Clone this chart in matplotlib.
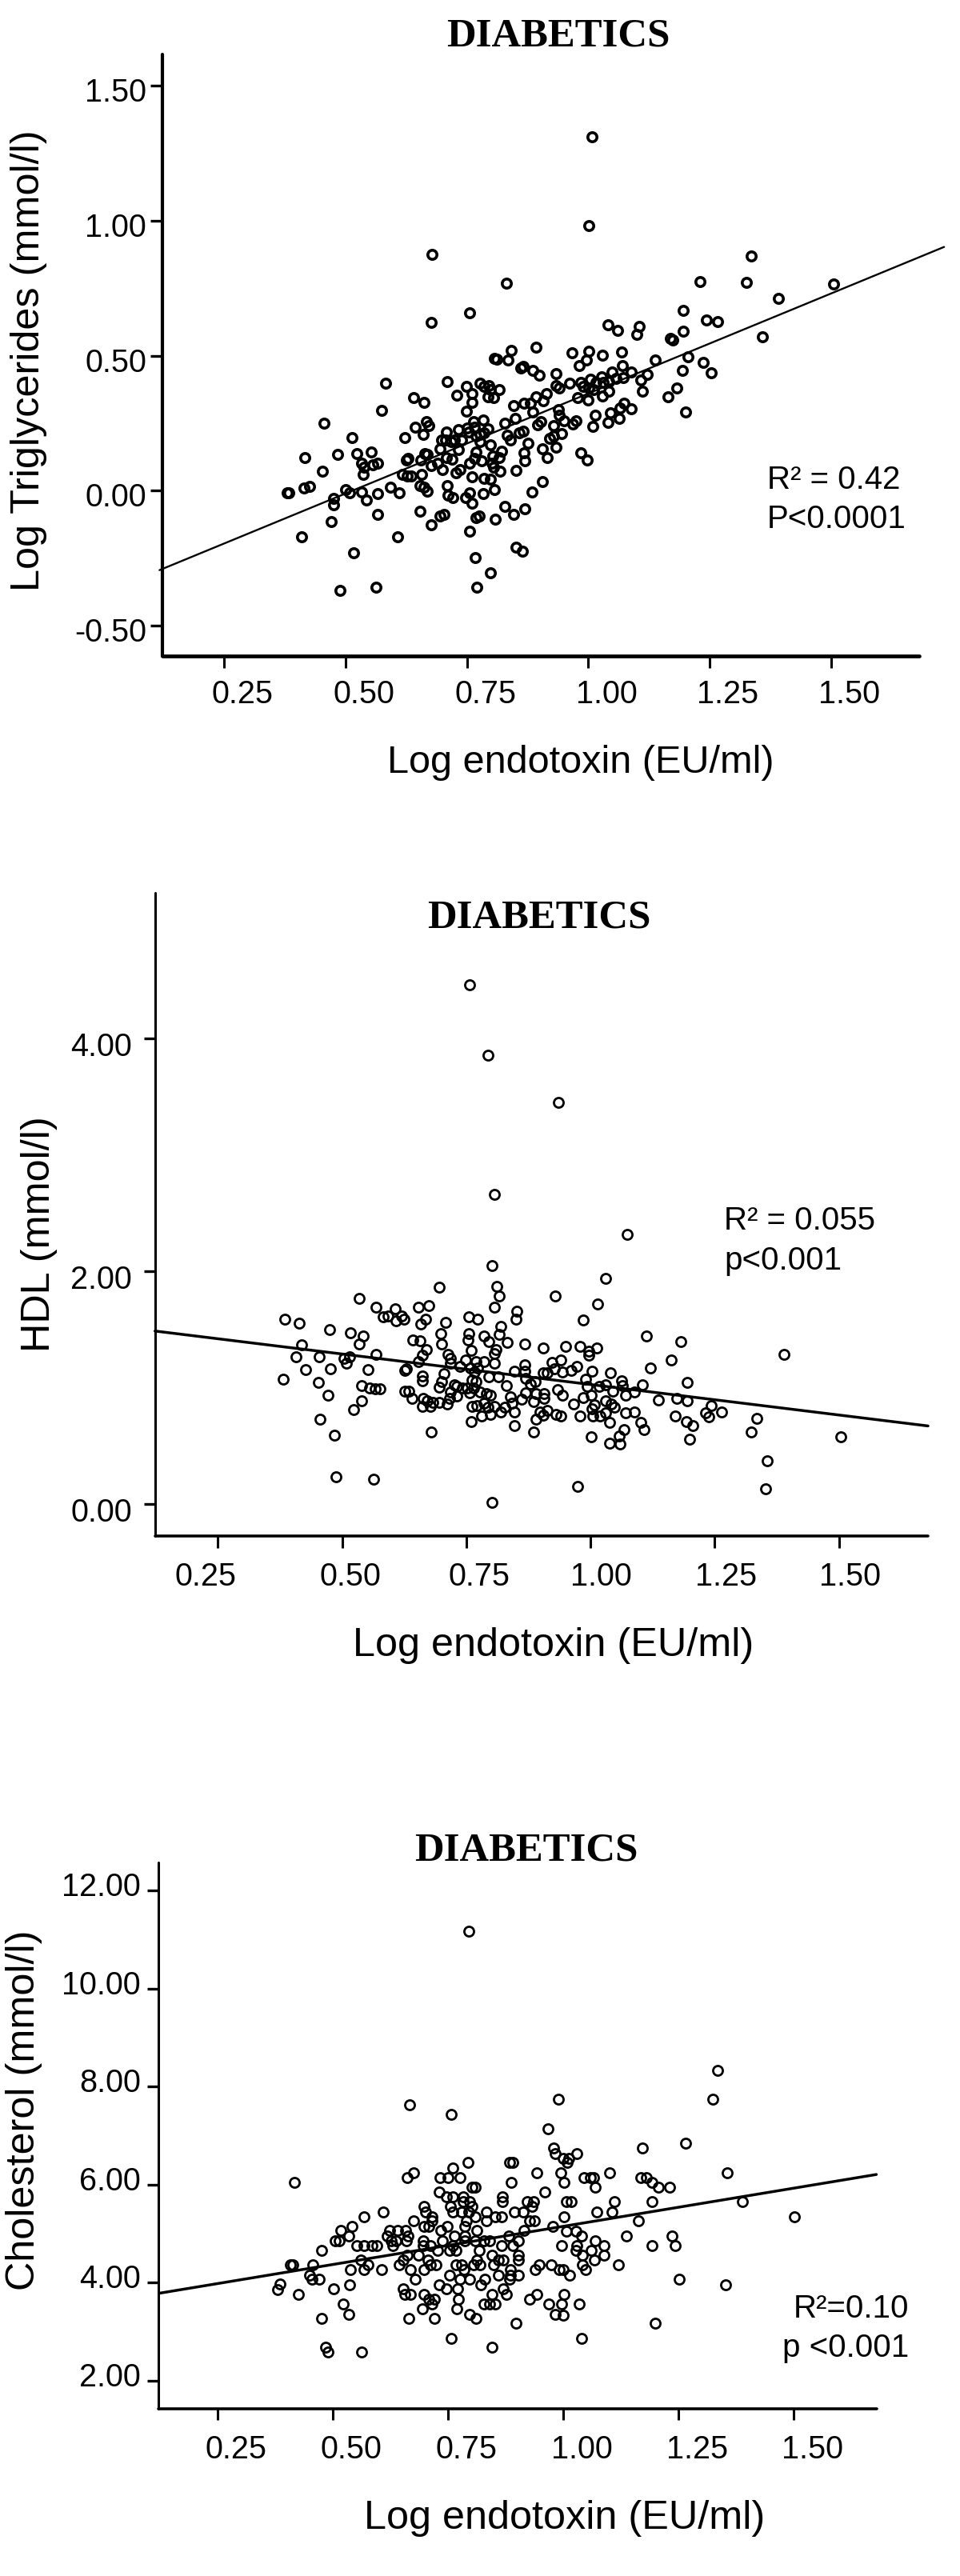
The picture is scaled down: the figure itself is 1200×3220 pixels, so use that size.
"""Three DIABETICS scatter panels: log endotoxin against TG, HDL and cholesterol."""
import matplotlib
matplotlib.use("Agg")
import matplotlib.pyplot as plt
from matplotlib.transforms import ScaledTranslation

W, H = 1200, 3220
SANS = ["Liberation Sans", "DejaVu Sans"]
SERIF = ["Liberation Serif", "DejaVu Serif"]

# ---------------------------------------------------------------------
# Data
# ---------------------------------------------------------------------
TG_X = [0.679, 0.756, 0.677, 0.807, 0.583, 0.709, 0.749, 0.777, 0.785, 0.795, 0.799, 0.761, 0.730, 0.641, 0.662, 0.760,
        0.794, 0.805, 0.575, 0.749, 0.455, 0.667, 0.671, 0.644, 0.660, 0.514, 0.623, 0.764, 0.783, 0.750, 0.754, 0.766,
        0.732, 0.708, 0.698, 0.706, 0.717, 0.725, 0.694, 0.739, 0.794, 0.769, 0.777, 0.786, 0.777, 0.799, 0.733, 0.769,
        0.663, 0.669, 0.553, 0.523, 0.484, 0.417, 0.629, 0.625, 0.656, 0.708, 0.719, 0.766, 0.780, 0.755, 0.803, 0.534,
        0.567, 0.556, 0.539, 0.677, 0.689, 0.802, 0.805, 0.453, 0.537, 0.699, 0.727, 0.736, 0.657, 0.617, 0.627, 0.636,
        0.761, 0.785, 0.799, 0.383, 0.380, 0.415, 0.426, 0.501, 0.508, 0.534, 0.566, 0.593, 0.610, 0.654, 0.662, 0.669,
        0.709, 0.711, 0.721, 0.755, 0.747, 0.784, 0.806, 0.475, 0.475, 0.543, 0.761, 0.567, 0.653, 0.695, 0.703, 0.769,
        0.775, 0.809, 0.471, 0.677, 0.756, 0.409, 0.607, 0.517, 0.768, 0.799, 0.488, 0.563, 0.770,
        1.008, 1.002, 0.832, 1.335, 1.231, 1.325, 1.505, 1.391, 1.195, 1.243, 1.266, 1.041, 1.061, 1.105, 1.100, 1.195,
        1.359, 1.169, 1.174, 0.841, 0.892, 0.834, 0.967, 1.001, 1.029, 1.068, 0.997, 0.981, 0.811, 1.138, 1.206, 1.237,
        1.071, 0.861, 0.866, 0.886, 0.899, 0.934, 1.253, 1.194, 1.088, 1.121, 1.049, 0.961, 0.934, 0.941, 0.984, 0.990,
        1.004, 1.016, 1.028, 1.031, 1.043, 1.058, 1.072, 1.109, 1.112, 1.043, 1.001, 1.011, 1.182, 1.164, 0.816, 0.914,
        0.893, 0.978, 0.999, 1.030, 0.908, 0.881, 0.868, 0.846, 1.074, 1.065, 1.089, 1.200, 0.939, 0.886, 0.850, 1.014,
        1.045, 0.941, 0.950, 0.975, 0.969, 0.902, 0.896, 0.829, 0.928, 1.009, 1.040, 1.064, 0.866, 0.858, 0.833, 0.839,
        0.945, 0.928, 0.921, 0.876, 0.934, 0.905, 0.985, 0.868, 0.915, 0.869, 0.998, 0.822, 0.816, 0.851, 0.818, 0.905,
        0.885, 0.829, 0.846, 0.870, 0.852, 0.864]
TG_Y = [0.876, 0.660, 0.624, 0.489, 0.399, 0.405, 0.386, 0.397, 0.386, 0.388, 0.374, 0.361, 0.353, 0.345, 0.327, 0.327,
        0.348, 0.345, 0.298, 0.295, 0.250, 0.255, 0.242, 0.235, 0.209, 0.197, 0.196, 0.255, 0.262, 0.231, 0.218, 0.235,
        0.225, 0.218, 0.189, 0.189, 0.183, 0.189, 0.156, 0.187, 0.229, 0.202, 0.209, 0.216, 0.183, 0.169, 0.152, 0.143,
        0.139, 0.134, 0.143, 0.139, 0.135, 0.122, 0.120, 0.115, 0.114, 0.123, 0.116, 0.120, 0.110, 0.103, 0.130, 0.103,
        0.103, 0.097, 0.086, 0.094, 0.103, 0.103, 0.086, 0.071, 0.062, 0.078, 0.066, 0.078, 0.061, 0.060, 0.054, 0.054,
        0.052, 0.045, 0.044, -0.007, -0.007, 0.011, 0.015, 0.004, -0.007, -0.005, -0.011, 0.012, -0.007, 0.020, 0.012, -0.001,
        0.020, -0.016, -0.026, -0.009, -0.025, -0.011, 0.004, -0.029, -0.052, -0.034, -0.046, -0.089, -0.075, -0.093, -0.089, -0.099,
        -0.093, -0.104, -0.115, -0.126, -0.149, -0.171, -0.171, -0.231, -0.247, -0.303, -0.368, -0.358, -0.358,
        1.310, 0.983, 0.770, 0.869, 0.775, 0.771, 0.765, 0.713, 0.667, 0.631, 0.626, 0.614, 0.595, 0.608, 0.579, 0.590,
        0.569, 0.565, 0.557, 0.520, 0.533, 0.485, 0.512, 0.517, 0.501, 0.513, 0.484, 0.464, 0.488, 0.484, 0.496, 0.475,
        0.463, 0.454, 0.460, 0.447, 0.427, 0.435, 0.438, 0.446, 0.439, 0.430, 0.439, 0.398, 0.388, 0.381, 0.401, 0.385,
        0.414, 0.401, 0.421, 0.401, 0.403, 0.417, 0.419, 0.410, 0.368, 0.370, 0.381, 0.374, 0.382, 0.347, 0.374, 0.361,
        0.348, 0.344, 0.336, 0.351, 0.332, 0.324, 0.324, 0.315, 0.325, 0.306, 0.304, 0.292, 0.302, 0.292, 0.269, 0.279,
        0.288, 0.279, 0.258, 0.258, 0.246, 0.257, 0.245, 0.249, 0.242, 0.238, 0.254, 0.267, 0.220, 0.216, 0.205, 0.189,
        0.212, 0.202, 0.193, 0.175, 0.160, 0.156, 0.142, 0.142, 0.123, 0.112, 0.114, 0.145, 0.123, 0.075, 0.073, 0.033,
        -0.005, -0.058, -0.089, -0.067, -0.208, -0.224]
TG_LINE_X = [0.117, 1.733]
TG_LINE_Y = [-0.294, 0.903]

HDL_X = [0.757, 0.793, 0.806, 0.801, 0.812, 0.816, 0.696, 0.535, 0.568, 0.806, 0.607, 0.653, 0.675, 0.851, 0.583, 0.592,
         0.619, 0.624, 0.608, 0.385, 0.414, 0.668, 0.658, 0.755, 0.773, 0.850, 0.708, 0.475, 0.516, 0.543, 0.699, 0.755,
         0.819, 0.816, 0.785, 0.643, 0.657, 0.754, 0.418, 0.534, 0.701, 0.795, 0.832, 0.760, 0.669, 0.810, 0.568, 0.713,
         0.806, 0.661, 0.408, 0.454, 0.515, 0.504, 0.718, 0.508, 0.654, 0.748, 0.769, 0.785, 0.807, 0.718, 0.426, 0.476,
         0.552, 0.630, 0.626, 0.737, 0.759, 0.772, 0.847, 0.705, 0.766, 0.795, 0.814, 0.661, 0.382, 0.661, 0.700, 0.761,
         0.769, 0.453, 0.696, 0.726, 0.731, 0.742, 0.752, 0.765, 0.539, 0.831, 0.556, 0.566, 0.576, 0.626, 0.634, 0.718,
         0.756, 0.777, 0.790, 0.799, 0.471, 0.731, 0.641, 0.664, 0.716, 0.839, 0.539, 0.671, 0.682, 0.695, 0.711, 0.661,
         0.678, 0.762, 0.771, 0.785, 0.793, 0.807, 0.842, 0.828, 0.524, 0.820, 0.846, 0.798, 0.780, 0.456, 0.760, 0.846,
         0.679, 0.484, 0.488, 0.563, 0.801,
         0.935, 1.073, 1.030, 0.929, 1.014, 0.985, 1.112, 1.181, 1.390, 0.868, 0.904, 0.950, 0.978, 1.012, 0.997, 0.996,
         1.162, 0.923, 0.940, 0.972, 0.928, 0.944, 0.961, 0.867, 0.868, 0.905, 0.913, 1.120, 1.003, 1.040, 0.990, 1.062,
         1.194, 0.869, 0.888, 0.879, 1.105, 0.993, 1.017, 1.030, 1.064, 1.044, 1.089, 0.933, 0.943, 0.869, 0.891, 0.906,
         1.001, 0.985, 1.071, 0.861, 0.885, 0.906, 1.137, 1.173, 1.195, 0.966, 1.030, 1.041, 1.008, 1.243, 1.264, 1.048,
         1.003, 1.231, 1.238, 1.334, 1.070, 1.089, 0.913, 0.898, 0.905, 0.891, 0.931, 0.940, 0.979, 1.005, 1.019, 1.030,
         1.170, 1.039, 1.101, 1.193, 1.206, 1.068, 1.108, 0.886, 1.324, 1.002, 1.058, 1.199, 1.039, 1.060, 1.503, 1.356,
         0.974, 1.352]
HDL_Y = [4.463, 3.856, 2.658, 2.047, 1.868, 1.787, 1.866, 1.768, 1.695, 1.695, 1.676, 1.695, 1.708, 1.658, 1.611, 1.618,
         1.618, 1.587, 1.574, 1.592, 1.553, 1.592, 1.550, 1.608, 1.592, 1.592, 1.563, 1.500, 1.474, 1.445, 1.463, 1.463,
         1.526, 1.461, 1.445, 1.411, 1.405, 1.408, 1.366, 1.374, 1.374, 1.395, 1.387, 1.321, 1.324, 1.324, 1.287, 1.289,
         1.295, 1.276, 1.263, 1.263, 1.268, 1.255, 1.255, 1.211, 1.221, 1.237, 1.224, 1.224, 1.211, 1.211, 1.158, 1.163,
         1.158, 1.163, 1.147, 1.184, 1.171, 1.171, 1.145, 1.118, 1.132, 1.092, 1.092, 1.100, 1.071, 1.061, 1.053, 1.066,
         1.053, 1.047, 1.005, 1.026, 1.013, 1.000, 1.000, 1.000, 1.021, 1.021, 1.000, 0.989, 0.989, 0.968, 0.968, 0.961,
         0.953, 0.961, 0.947, 0.934, 0.937, 0.926, 0.905, 0.908, 0.908, 0.921, 0.887, 0.887, 0.876, 0.874, 0.863, 0.842,
         0.842, 0.842, 0.847, 0.868, 0.829, 0.842, 0.868, 0.829, 0.811, 0.789, 0.789, 0.771, 0.755, 0.726, 0.705, 0.671,
         0.618, 0.592, 0.232, 0.211, 0.011,
         3.455, 2.316, 1.939, 1.789, 1.721, 1.579, 1.445, 1.395, 1.287, 1.376, 1.339, 1.358, 1.355, 1.339, 1.316, 1.282,
         1.237, 1.218, 1.237, 1.184, 1.163, 1.137, 1.150, 1.197, 1.145, 1.126, 1.126, 1.166, 1.145, 1.126, 1.074, 1.058,
         1.047, 1.079, 1.053, 1.034, 1.026, 1.013, 1.008, 1.026, 1.021, 0.968, 0.961, 0.982, 0.934, 0.955, 0.947, 0.947,
         0.934, 0.918, 0.934, 0.903, 0.882, 0.908, 0.897, 0.911, 0.887, 0.863, 0.887, 0.863, 0.855, 0.847, 0.792, 0.829,
         0.816, 0.784, 0.750, 0.737, 0.782, 0.792, 0.803, 0.789, 0.763, 0.729, 0.768, 0.758, 0.755, 0.755, 0.755, 0.782,
         0.758, 0.703, 0.703, 0.711, 0.671, 0.639, 0.639, 0.618, 0.618, 0.576, 0.584, 0.558, 0.521, 0.513, 0.576, 0.368,
         0.153, 0.129]
HDL_LINE_X = [0.1235, 1.679]
HDL_LINE_Y = [1.487, 0.671]

CHOL_X = [0.795, 0.667, 0.757, 0.794, 0.883, 0.891, 0.760, 0.676, 0.661, 0.732, 0.749, 0.776, 0.417, 0.802, 0.809, 0.887,
          0.730, 0.747, 0.760, 0.782, 0.867, 0.783, 0.796, 0.867, 0.698, 0.755, 0.802, 0.701, 0.609, 0.761, 0.779, 0.795,
          0.834, 0.894, 0.567, 0.715, 0.809, 0.853, 0.866, 0.676, 0.716, 0.790, 0.833, 0.542, 0.698, 0.709, 0.748, 0.787,
          0.517, 0.623, 0.640, 0.658, 0.735, 0.813, 0.535, 0.618, 0.663, 0.764, 0.787, 0.881, 0.505, 0.514, 0.626, 0.637,
          0.660, 0.696, 0.737, 0.787, 0.808, 0.828, 0.840, 0.903, 0.552, 0.568, 0.585, 0.595, 0.630, 0.696, 0.712, 0.761,
          0.866, 0.891, 0.475, 0.727, 0.753, 0.768, 0.818, 0.661, 0.686, 0.845, 0.903, 0.560, 0.652, 0.707, 0.812, 0.860,
          0.869, 0.903, 0.408, 0.414, 0.456, 0.576, 0.644, 0.712, 0.724, 0.767, 0.779, 0.805, 0.819, 0.849, 0.538, 0.568,
          0.605, 0.669, 0.698, 0.785, 0.886, 0.450, 0.754, 0.860, 0.886, 0.903, 0.455, 0.471, 0.678, 0.776, 0.797, 0.830,
          0.884, 0.386, 0.537, 0.730, 0.821, 0.381, 0.502, 0.652, 0.747, 0.770, 0.870, 0.425, 0.657, 0.669, 0.697, 0.845,
          0.876, 0.709, 0.721, 0.773, 0.523, 0.715, 0.828, 0.840, 0.852, 0.695, 0.534, 0.769, 0.797, 0.475, 0.664, 0.720,
          0.810, 0.897, 0.756, 0.845, 0.484, 0.489, 0.563,
          1.334, 0.990, 1.324, 0.966, 1.266, 1.172, 0.979, 0.982, 1.029, 1.000, 1.012, 1.009, 0.942, 0.995, 1.100, 1.356,
          1.044, 1.058, 1.066, 1.168, 1.180, 1.192, 1.002, 1.070, 1.206, 1.230, 0.960, 0.922, 0.935, 1.007, 1.017, 1.110,
          1.193, 1.389, 0.932, 0.913, 1.073, 1.105, 1.002, 1.502, 0.927, 0.938, 1.162, 0.978, 0.915, 1.007, 1.028, 1.040,
          1.136, 1.236, 1.069, 0.996, 1.029, 1.088, 1.193, 1.242, 1.027, 1.061, 1.041, 1.089, 1.067, 0.948, 0.973, 1.041,
          1.119, 0.939, 0.991, 1.000, 1.048, 1.014, 1.251, 1.352, 0.942, 1.002, 0.927, 0.969, 0.996, 1.034, 0.982, 1.000,
          1.199, 1.040]
CHOL_Y = [11.17, 7.63, 7.43, 6.45, 6.45, 6.45, 6.34, 6.24, 6.15, 6.15, 6.15, 6.15, 6.05, 5.95, 5.95, 6.05,
          5.85, 5.75, 5.75, 5.75, 5.75, 5.65, 5.65, 5.65, 5.55, 5.55, 5.55, 5.45, 5.45, 5.45, 5.45, 5.45,
          5.45, 5.45, 5.35, 5.35, 5.35, 5.35, 5.35, 5.26, 5.26, 5.26, 5.26, 5.15, 5.15, 5.15, 5.15, 5.15,
          5.06, 5.06, 5.06, 5.06, 5.06, 5.06, 4.96, 4.96, 4.96, 4.96, 4.96, 4.96, 4.86, 4.86, 4.86, 4.86,
          4.86, 4.86, 4.86, 4.86, 4.86, 4.86, 4.86, 4.86, 4.76, 4.76, 4.76, 4.76, 4.76, 4.76, 4.76, 4.76,
          4.76, 4.76, 4.66, 4.66, 4.66, 4.66, 4.66, 4.56, 4.56, 4.56, 4.56, 4.46, 4.46, 4.46, 4.46, 4.46,
          4.46, 4.46, 4.36, 4.36, 4.36, 4.36, 4.36, 4.36, 4.36, 4.36, 4.36, 4.36, 4.36, 4.36, 4.27, 4.27,
          4.27, 4.27, 4.27, 4.27, 4.27, 4.16, 4.16, 4.16, 4.16, 4.16, 4.07, 4.07, 4.07, 4.07, 4.07, 4.07,
          4.07, 3.97, 3.96, 3.96, 3.96, 3.86, 3.87, 3.87, 3.87, 3.87, 3.87, 3.77, 3.77, 3.77, 3.77, 3.77,
          3.77, 3.67, 3.67, 3.67, 3.57, 3.57, 3.57, 3.57, 3.57, 3.47, 3.36, 3.47, 3.36, 3.28, 3.28, 3.28,
          3.28, 3.17, 2.87, 2.68, 2.68, 2.58, 2.58,
          8.33, 7.74, 7.74, 7.14, 6.85, 6.75, 6.75, 6.64, 6.64, 6.54, 6.54, 6.45, 6.24, 6.24, 6.24, 6.24,
          6.15, 6.15, 6.15, 6.15, 6.15, 6.05, 6.05, 5.95, 5.95, 5.95, 5.85, 5.65, 5.65, 5.65, 5.65, 5.65,
          5.65, 5.65, 5.55, 5.45, 5.45, 5.45, 5.35, 5.35, 5.26, 5.26, 5.26, 5.15, 5.06, 5.05, 5.05, 4.96,
          4.96, 4.96, 4.86, 4.76, 4.76, 4.76, 4.76, 4.76, 4.66, 4.66, 4.56, 4.56, 4.46, 4.36, 4.36, 4.36,
          4.36, 4.27, 4.27, 4.27, 4.27, 4.16, 4.07, 3.96, 3.77, 3.77, 3.67, 3.57, 3.57, 3.57, 3.36, 3.33,
          3.17, 2.87]
CHOL_LINE_X = [0.125, 1.679]
CHOL_LINE_Y = [3.788, 6.207]

X_TICKS = [0.25, 0.50, 0.75, 1.00, 1.25, 1.50]
TG_TICKS = [-0.50, 0.00, 0.50, 1.00, 1.50]
HDL_TICKS = [0.00, 2.00, 4.00]
CHOL_TICKS = [2.00, 4.00, 6.00, 8.00, 10.00, 12.00]


def px_x(x):
    return x / W


def px_y(y):
    return 1 - y / H


def shift_label(lab, dx_px, dy_px, fig):
    offset = ScaledTranslation(dx_px / 100, dy_px / 100, fig.dpi_scale_trans)
    lab.set_transform(lab.get_transform() + offset)


def draw_panel(fig, box, xlim, ylim, xs, ys, line_x, line_y, yticks, style):
    left, top, right, bottom = box
    ax = fig.add_axes([px_x(left), px_y(bottom), (right - left) / W, (bottom - top) / H])
    ax.set_xlim(*xlim)
    ax.set_ylim(*ylim)
    ax.plot(xs, ys, linestyle="none", marker="o", ms=style["ms"], mew=style["mew"],
            mfc="none", mec="black", clip_on=False)
    ax.plot(line_x, line_y, color="black", lw=style["line"], clip_on=False,
            solid_capstyle="round")
    for side in ("top", "right"):
        ax.spines[side].set_visible(False)
    ax.spines["left"].set_linewidth(style["spine"])
    ax.spines["bottom"].set_linewidth(style["spine"] + 0.4)
    ax.spines["left"].set_capstyle("round")
    ax.spines["bottom"].set_capstyle("round")
    ax.set_xticks(X_TICKS)
    ax.set_xticklabels([f"{v:.2f}" for v in X_TICKS])
    ax.set_yticks(yticks)
    ax.set_yticklabels([f"{v:.2f}" for v in yticks])
    ax.tick_params(axis="x", length=style["xlen"] * 0.72, width=2.2, pad=style["xpad"], labelsize=28.5)
    ax.tick_params(axis="y", length=style["ylen"] * 0.72, width=2.4, pad=style["ypad"], labelsize=28.5)
    for lab, dx in zip(ax.get_xticklabels(), style["xshift"]):
        shift_label(lab, dx, 0, fig)
    for lab in ax.get_yticklabels():
        shift_label(lab, 0, -style["yshift"], fig)
    return ax


def main():
    plt.rcParams["font.family"] = SANS
    fig = plt.figure(figsize=(W / 100, H / 100), dpi=100)

    draw_panel(fig, (203, 68, 1148.6, 820), (0.123, 1.681), (-0.612, 1.616),
               TG_X, TG_Y, TG_LINE_X, TG_LINE_Y, TG_TICKS,
               dict(ms=8.2, mew=2.6, line=1.7, spine=3.0, xlen=15, ylen=15, xpad=10, ypad=3.5,
                    xshift=[23] * 6, yshift=5))
    draw_panel(fig, (193.7, 1116, 1160, 1920), (0.1235, 1.679), (-0.275, 5.254),
               HDL_X, HDL_Y, HDL_LINE_X, HDL_LINE_Y, HDL_TICKS,
               dict(ms=8.7, mew=2.0, line=2.5, spine=2.2, xlen=15, ylen=14, xpad=12, ypad=10.5,
                    xshift=[-15, 10, 16, 13, 14, 14], yshift=7))
    draw_panel(fig, (198.2, 2327.7, 1096, 3010.7), (0.122, 1.68), (1.434, 12.576),
               CHOL_X, CHOL_Y, CHOL_LINE_X, CHOL_LINE_Y, CHOL_TICKS,
               dict(ms=8.7, mew=2.0, line=2.5, spine=2.2, xlen=14, ylen=14, xpad=13, ypad=6,
                    xshift=[23] * 6, yshift=-8))

    # titles
    for cx, base in [(698, 57), (674, 1159), (658, 2325)]:
        fig.text(px_x(cx), px_y(base), "DIABETICS", family=SERIF, weight="bold", fontsize=36.5,
                 ha="center", va="baseline")

    # axis labels
    for cx, base, size in [(726, 966, 35), (692, 2070, 36.3), (706, 3161, 36.3)]:
        fig.text(px_x(cx), px_y(base), "Log endotoxin (EU/ml)", fontsize=size, ha="center", va="baseline")
    for base, cy, text in [(49, 451, "Log Triglycerides (mmol/l)"),
                           (62, 1543, "HDL (mmol/l)"),
                           (43, 2638, "Cholesterol (mmol/l)")]:
        fig.text(px_x(base), px_y(cy), text, fontsize=36.3, rotation=90, rotation_mode="anchor",
                 ha="center", va="baseline")

    # fit annotations
    for x, base, text, ha in [(959, 611, "R² = 0.42", "left"), (959, 660, "P<0.0001", "left"),
                              (905, 1537, "R² = 0.055", "left"), (905, 1587, "p<0.001", "left"),
                              (1136, 2897, "R²=0.10", "right"), (1136, 2946, "p <0.001", "right")]:
        fig.text(px_x(x), px_y(base), text, fontsize=29, ha=ha, va="baseline")

    fig.savefig("out.png", dpi=100, facecolor="white")
    plt.close(fig)


if __name__ == "__main__":
    main()
